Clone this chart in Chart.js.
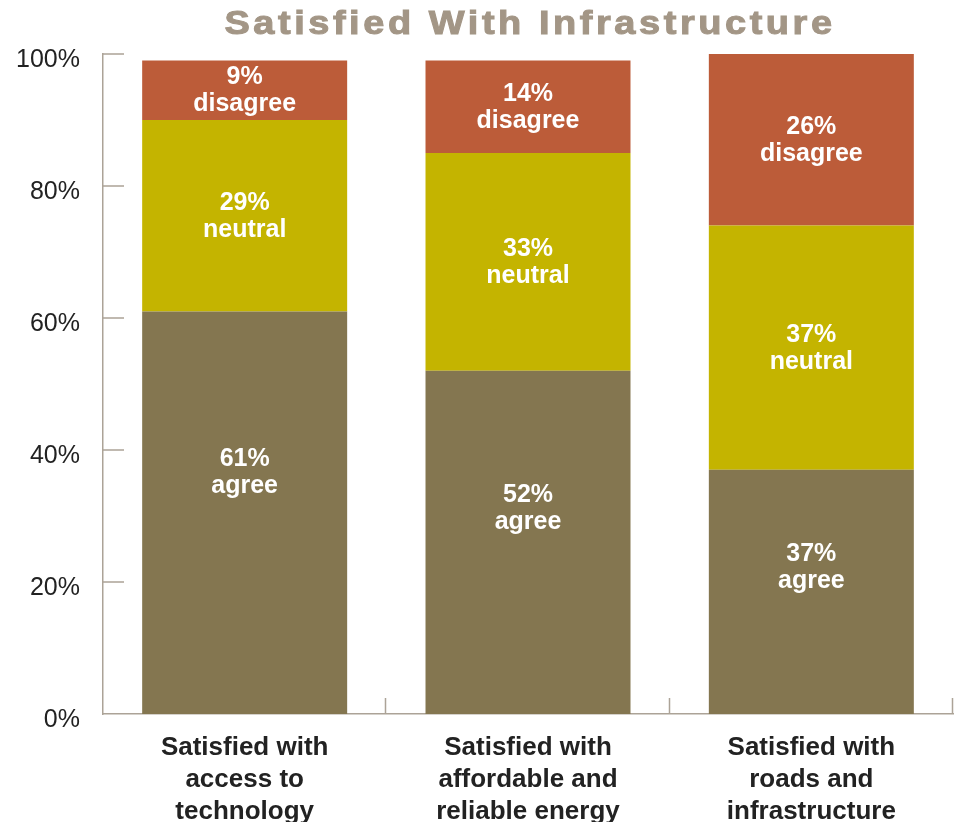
<!DOCTYPE html>
<html>
<head>
<meta charset="utf-8">
<script src="https://cdn.jsdelivr.net/npm/chart.js@4.4.1/dist/chart.umd.min.js"></script>
<style>
	html, body { margin: 0; padding: 0; background: #fff; }
	#wrap { width: 961px; height: 822px; position: relative; }
</style>
</head>
<body>
<div id="wrap"><canvas id="chart"></canvas></div>
<script>
const titleText = 'Satisfied With Infrastructure';
const categories = [
	['Satisfied with', 'access to', 'technology'],
	['Satisfied with', 'affordable and', 'reliable energy'],
	['Satisfied with', 'roads and', 'infrastructure'],
];
const seriesNames = ['agree', 'neutral', 'disagree'];
const agreeValues = [61, 52, 37];
const neutralValues = [29, 33, 37];
const disagreeValues = [9, 14, 26];
const yTicks = [0, 20, 40, 60, 80, 100];

const COLORS = {
	agree: '#847650',
	neutral: '#c4b400',
	disagree: '#bc5c39',
	axis: '#aca397',
	title: '#a39686',
	text: '#222222',
};
const FONT = '"Liberation Sans", Arial, Helvetica, sans-serif';

// title: wide heavy lettering, centred over the plot area
const titlePlugin = {
	id: 'spacedTitle',
	afterDraw(chart) {
		const { ctx, chartArea } = chart;
		const cx = (chartArea.left + chartArea.right) / 2 + 2;
		ctx.save();
		ctx.translate(cx, 25);
		ctx.scale(1.15, 1);
		ctx.font = `bold 33px ${FONT}`;
		ctx.fillStyle = COLORS.title;
		ctx.strokeStyle = COLORS.title;
		ctx.lineWidth = 1;
		ctx.textAlign = 'center';
		ctx.textBaseline = 'middle';
		if ('letterSpacing' in ctx) ctx.letterSpacing = '3.1px';
		ctx.fillText(titleText, 0, 0);
		ctx.strokeText(titleText, 0, 0);
		ctx.restore();
	},
};

// short inner ticks: category separators on x, value marks on y
const axisTicksPlugin = {
	id: 'innerTicks',
	afterDraw(chart) {
		const { ctx, chartArea } = chart;
		const x = chart.scales.x;
		const y = chart.scales.y;
		const n = categories.length;
		ctx.save();
		ctx.strokeStyle = COLORS.axis;
		ctx.lineWidth = 1.5;
		ctx.beginPath();
		for (let i = 1; i <= n; i++) {
			const px = Math.round(x.left + (i * x.width) / n) - 0.5;
			ctx.moveTo(px, chartArea.bottom);
			ctx.lineTo(px, chartArea.bottom - 16);
		}
		yTicks.slice(1).forEach((v) => {
			const py = Math.round(y.getPixelForValue(v));
			ctx.moveTo(chartArea.left, py);
			ctx.lineTo(chartArea.left + 21, py);
		});
		ctx.stroke();
		ctx.restore();
	},
};

// white two-line labels inside each segment
const segmentLabelPlugin = {
	id: 'segmentLabels',
	afterDatasetsDraw(chart) {
		const { ctx } = chart;
		ctx.save();
		ctx.font = `bold 25px ${FONT}`;
		ctx.fillStyle = '#ffffff';
		ctx.textAlign = 'center';
		ctx.textBaseline = 'middle';
		chart.data.datasets.forEach((ds, di) => {
			const meta = chart.getDatasetMeta(di);
			meta.data.forEach((bar, i) => {
				const h = bar.base - bar.y;
				const frac = di === 0 ? 0.6 : 0.5;
				const cy = bar.base - h * frac;
				ctx.fillText(ds.data[i] + '%', bar.x, cy - 13);
				ctx.fillText(ds.label, bar.x, cy + 14);
			});
		});
		ctx.restore();
	},
};

const datasets = [agreeValues, neutralValues, disagreeValues].map((vals, i) => ({
	label: seriesNames[i],
	data: vals,
	backgroundColor: COLORS[seriesNames[i]],
	borderWidth: 0,
	categoryPercentage: 1,
	barPercentage: 0.7235,
}));

new Chart(document.getElementById('chart'), {
	type: 'bar',
	data: { labels: categories, datasets: datasets },
	options: {
		responsive: true,
		maintainAspectRatio: false,
		animation: false,
		layout: { padding: { top: 54, right: 8, left: 0, bottom: 0 } },
		plugins: {
			legend: { display: false },
			title: { display: false },
			tooltip: { enabled: false },
		},
		scales: {
			x: {
				stacked: true,
				grid: { display: false },
				border: { display: true, color: COLORS.axis, width: 1.5 },
				ticks: {
					color: COLORS.text,
					font: { family: FONT, size: 26, weight: 'bold', lineHeight: 1.23 },
					padding: 10,
					maxRotation: 0,
					autoSkip: false,
				},
				afterFit(scale) {
					scale.height = 108;
				},
			},
			y: {
				stacked: true,
				min: 0,
				max: 100,
				grid: { display: false },
				border: { display: true, color: COLORS.axis, width: 1.5 },
				afterBuildTicks(scale) {
					scale.ticks = yTicks.map((v) => ({ value: v }));
				},
				ticks: {
					color: COLORS.text,
					font: { family: FONT, size: 25 },
					padding: 15,
					labelOffset: 6,
					callback: (v) => v + '%',
				},
				afterFit(scale) {
					scale.width = 103;
				},
			},
		},
	},
	plugins: [titlePlugin, axisTicksPlugin, segmentLabelPlugin],
});
</script>
</body>
</html>
